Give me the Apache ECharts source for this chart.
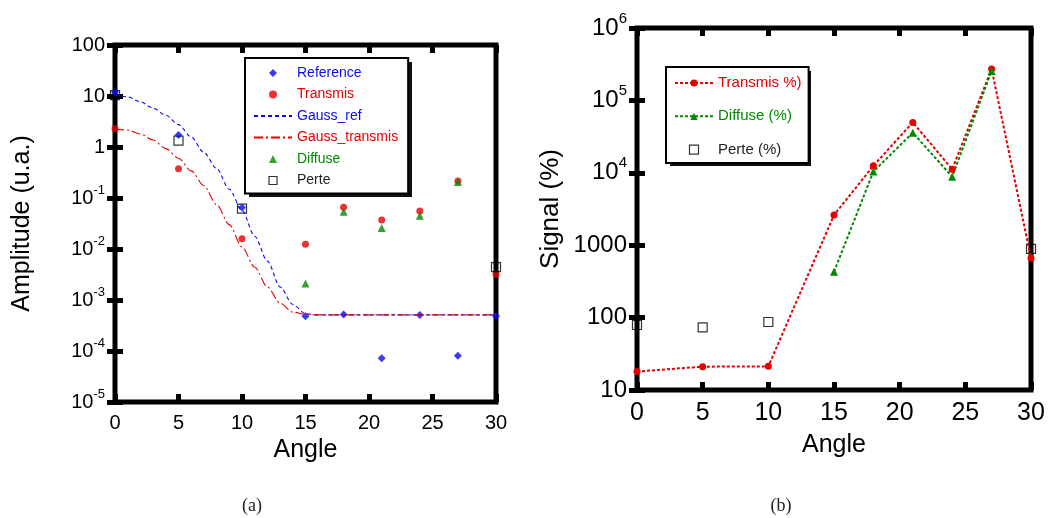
<!DOCTYPE html>
<html>
<head>
<meta charset="utf-8">
<script src="https://cdn.jsdelivr.net/npm/echarts@6/dist/echarts.min.js"></script>
<style>
html,body{margin:0;padding:0;background:#fff;}
#main{width:1054px;height:518px;}
</style>
</head>
<body>
<div id="main"></div>
<script>
// ---------- data: panel (a) ----------
const anglesA = [0, 5, 10, 15, 18, 21, 24, 27, 30];
const referenceA = [12, 1.72, 0.065, 4.8e-4, 5.2e-4, 7.2e-5, 5.1e-4, 8.1e-5, 4.8e-4];
const transmisA = [2.29, 0.376, 0.0158, 0.0124, 0.066, 0.037, 0.0556, 0.215, 0.0032];
const diffuseAnglesA = [15, 18, 21, 24, 27];
const diffuseA = [0.0021, 0.054, 0.0257, 0.045, 0.205];
const perteAnglesA = [0, 5, 10, 30];
const perteA = [10.4, 1.33, 0.062, 0.0044];
const gaussX = [0, 1, 2, 3, 4, 5, 6, 7, 8, 9, 10, 11, 12, 13, 14, 15, 16, 30];
const gaussRef = [10.5, 9.6, 7.7, 5.8, 4.2, 2.75, 1.57, 0.78, 0.38, 0.148, 0.057, 0.0178, 0.0058, 0.0018, 8.2e-4, 5.4e-4, 5.1e-4, 5.1e-4];
const gaussTransmis = [2.25, 2.15, 1.8, 1.37, 0.93, 0.6, 0.34, 0.174, 0.074, 0.03, 0.011, 0.0044, 0.0018, 8.7e-4, 5.8e-4, 5.2e-4, 5.1e-4, 5.1e-4];

// ---------- data: panel (b) ----------
const anglesB = [0, 5, 10, 15, 18, 21, 24, 27, 30];
const transmisPct = [18, 21, 21.2, 2610, 12500, 49700, 11200, 272000, 660];
const diffuseAnglesB = [15, 18, 21, 24, 27];
const diffusePct = [430, 10400, 35800, 8830, 255000];
const perteAnglesB = [0, 5, 10, 30];
const pertePct = [79, 73.5, 87, 890];

const xTicks = [0, 5, 10, 15, 20, 25, 30];
const captions = ['(a)', '(b)'];

const BLUE = '#0a0af0', RED = '#e60000', GREEN = '#008a00', BLACK = '#000';
const FONT = '"Liberation Sans", Arial, Helvetica, sans-serif';

const ICON_DIAMOND = 'path://M5,0L10,5L5,10L0,5Z';
const ICON_TRIANGLE = 'path://M5,0L10,10L0,10Z';
const ICON_SQUARE = 'path://M0,0L10,0L10,10L0,10Z';

const pairs = (xs, ys) => xs.map((x, i) => [x, ys[i]]);

function fmtA(v) {
  const e = Math.round(Math.log10(v));
  return e >= 0 ? '{b|' + Math.round(Math.pow(10, e)) + '}' : '{b|10}{s|' + e + '}';
}
function fmtB(v) {
  const e = Math.round(Math.log10(v));
  return e >= 4 ? '{b|10}{s|' + e + '}' : '{b|' + Math.round(Math.pow(10, e)) + '}';
}

const tick = { show: true, inside: true, length: 8, lineStyle: { width: 5, color: BLACK } };

function xAx(grid, pos, showLabel, fs, name, gap) {
  return {
    gridIndex: grid, type: 'value', position: pos, min: xTicks[0], max: xTicks[xTicks.length - 1], interval: 5,
    axisLine: { show: false }, splitLine: { show: false }, axisTick: tick,
    axisLabel: { show: showLabel, fontSize: fs, color: BLACK, margin: 11, fontFamily: FONT },
    name: name, nameLocation: 'middle', nameGap: gap,
    nameTextStyle: { fontSize: 25, color: BLACK, fontFamily: FONT }
  };
}
function yAx(grid, pos, showLabel, min, max, fmt, bfs, blh, sfs, name, gap, nfs) {
  return {
    gridIndex: grid, type: 'log', logBase: 10, position: pos, min: min, max: max,
    axisLine: { show: false }, splitLine: { show: false }, axisTick: tick, minorTick: { show: false },
    axisLabel: {
      show: showLabel, formatter: fmt, margin: 10, color: BLACK,
      rich: {
        b: { fontSize: bfs, lineHeight: blh, color: BLACK, fontFamily: FONT },
        s: { fontSize: sfs, lineHeight: sfs, verticalAlign: 'top', color: BLACK, fontFamily: FONT }
      }
    },
    name: name, nameLocation: 'middle', nameGap: gap,
    nameTextStyle: { fontSize: nfs, color: BLACK, fontFamily: FONT }
  };
}

const openSquare = { color: 'rgba(0,0,0,0)', borderColor: BLACK, borderWidth: 1.2 };

const option = {
  animation: false,
  backgroundColor: '#fff',
  textStyle: { fontFamily: FONT },
  grid: [
    { left: 115, right: 558, top: 45, bottom: 116, show: true, borderColor: BLACK, borderWidth: 5 },
    { left: 637, right: 23, top: 28, bottom: 128, show: true, borderColor: BLACK, borderWidth: 5 }
  ],
  xAxis: [
    xAx(0, 'bottom', true, 20, 'Angle', 36),
    xAx(0, 'top', false, 20, '', 0),
    xAx(1, 'bottom', true, 25, 'Angle', 43),
    xAx(1, 'top', false, 25, '', 0)
  ],
  yAxis: [
    yAx(0, 'left', true, 1e-5, 100, fmtA, 20, 28, 13, 'Amplitude (u.a.)', 80, 25),
    yAx(0, 'right', false, 1e-5, 100, fmtA, 20, 28, 13, '', 0, 25),
    yAx(1, 'left', true, 10, 1e6, fmtB, 24, 34, 15, 'Signal (%)', 73, 26),
    yAx(1, 'right', false, 10, 1e6, fmtB, 24, 34, 15, '', 0, 26)
  ],
  legend: [
    {
      left: 245, top: 58, orient: 'vertical', itemWidth: 38, itemHeight: 8, itemGap: 7.5, z: 10,
      padding: [8, 10, 6, 8], backgroundColor: '#fff', borderColor: BLACK, borderWidth: 2,
      textStyle: { fontSize: 14, fontFamily: FONT },
      selectedMode: false,
      data: [
        { name: 'Reference', icon: ICON_DIAMOND, itemStyle: { color: BLUE }, textStyle: { color: BLUE } },
        { name: 'Transmis', icon: 'circle', textStyle: { color: RED } },
        { name: 'Gauss_ref', itemStyle: { opacity: 0 }, textStyle: { color: BLUE } },
        { name: 'Gauss_transmis', itemStyle: { opacity: 0 }, textStyle: { color: RED } },
        { name: 'Diffuse', icon: ICON_TRIANGLE, itemStyle: { color: GREEN }, textStyle: { color: GREEN } },
        { name: 'Perte', icon: ICON_SQUARE, itemStyle: openSquare, textStyle: { color: '#222' } }
      ]
    },
    {
      left: 666, top: 67, orient: 'vertical', itemWidth: 38, itemHeight: 9, itemGap: 18.3, z: 10,
      padding: [8.5, 7, 6, 8], backgroundColor: '#fff', borderColor: BLACK, borderWidth: 2,
      textStyle: { fontSize: 15, fontFamily: FONT },
      selectedMode: false,
      data: [
        { name: 'Transmis %)', textStyle: { color: RED } },
        { name: 'Diffuse (%)', textStyle: { color: GREEN } },
        { name: 'Perte (%)', icon: ICON_SQUARE, itemStyle: openSquare, textStyle: { color: '#222' } }
      ]
    }
  ],
  graphic: [
    { type: 'rect', z: 9, shape: { x: 249, y: 62, width: 163, height: 135 }, style: { fill: '#111' } },
    { type: 'rect', z: 9, shape: { x: 670, y: 71, width: 141, height: 95 }, style: { fill: '#111' } },
    { type: 'text', x: 252, y: 506, style: { text: captions[0], font: '18px "Liberation Serif", "DejaVu Serif", serif', fill: '#222', align: 'center', verticalAlign: 'middle' } },
    { type: 'text', x: 781, y: 506, style: { text: captions[1], font: '18px "Liberation Serif", "DejaVu Serif", serif', fill: '#222', align: 'center', verticalAlign: 'middle' } }
  ],
  series: [
    {
      name: 'Gauss_ref', type: 'line', xAxisIndex: 0, yAxisIndex: 0, data: pairs(gaussX, gaussRef),
      symbol: 'none', showSymbol: false, smooth: 0.3, smoothMonotone: 'x',
      lineStyle: { color: BLUE, width: 1.1, type: [4, 3] }, itemStyle: { color: BLUE }
    },
    {
      name: 'Gauss_transmis', type: 'line', xAxisIndex: 0, yAxisIndex: 0, data: pairs(gaussX, gaussTransmis),
      symbol: 'none', showSymbol: false, smooth: 0.3, smoothMonotone: 'x',
      lineStyle: { color: RED, width: 1.1, type: [9, 3, 2, 3] }, itemStyle: { color: RED }
    },
    {
      name: 'Transmis', type: 'scatter', xAxisIndex: 0, yAxisIndex: 0, data: pairs(anglesA, transmisA),
      symbol: 'circle', symbolSize: 7, itemStyle: { color: RED }, clip: false
    },
    {
      name: 'Diffuse', type: 'scatter', xAxisIndex: 0, yAxisIndex: 0, data: pairs(diffuseAnglesA, diffuseA),
      symbol: 'triangle', symbolSize: 8, itemStyle: { color: GREEN }, clip: false
    },
    {
      name: 'Perte', type: 'scatter', xAxisIndex: 0, yAxisIndex: 0, data: pairs(perteAnglesA, perteA),
      symbol: 'rect', symbolSize: 9, itemStyle: openSquare, clip: false
    },
    {
      name: 'Reference', type: 'scatter', xAxisIndex: 0, yAxisIndex: 0, data: pairs(anglesA, referenceA),
      symbol: 'diamond', symbolSize: 8, itemStyle: { color: BLUE }, clip: false
    },
    {
      name: 'Transmis %)', type: 'line', xAxisIndex: 2, yAxisIndex: 2, data: pairs(anglesB, transmisPct),
      symbol: 'circle', symbolSize: 7, showAllSymbol: true,
      lineStyle: { color: RED, width: 2, type: [3, 2] }, itemStyle: { color: RED }, clip: false
    },
    {
      name: 'Diffuse (%)', type: 'line', xAxisIndex: 2, yAxisIndex: 2, data: pairs(diffuseAnglesB, diffusePct),
      symbol: 'triangle', symbolSize: 8, showAllSymbol: true,
      lineStyle: { color: GREEN, width: 2, type: [3, 2] }, itemStyle: { color: GREEN }, clip: false
    },
    {
      name: 'Perte (%)', type: 'scatter', xAxisIndex: 2, yAxisIndex: 2, data: pairs(perteAnglesB, pertePct),
      symbol: 'rect', symbolSize: 9, itemStyle: openSquare, clip: false
    }
  ]
};

const chart = echarts.init(document.getElementById('main'), null, { renderer: 'canvas' });
chart.setOption(option);
</script>
</body>
</html>
